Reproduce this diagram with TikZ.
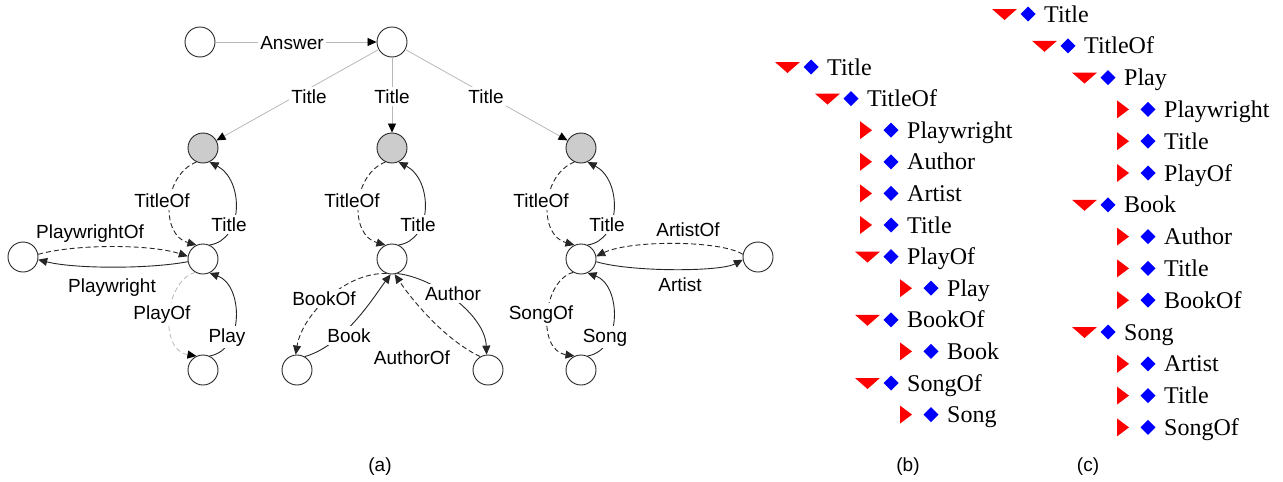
\documentclass[tikz,border=0pt]{standalone}
\usepackage{fontspec}
\setmainfont{Liberation Sans}
\newfontfamily\treefont{Liberation Serif}
\usetikzlibrary{arrows.meta}
\definecolor{treered}{RGB}{255,0,0}
\definecolor{treeblue}{RGB}{0,0,255}
\begin{document}
\begin{tikzpicture}[x=1pt,y=-1pt,
  vtx/.style={circle, draw=black!85, line width=0.9pt, minimum size=30pt, inner sep=0pt},
  gvtx/.style={vtx, fill=black!20},
  lbl/.style={fill=white, inner sep=2.5pt, anchor=base, font=\fontsize{19}{22}\selectfont},
  captxt/.style={inner sep=0pt, anchor=base, font=\fontsize{19}{22}\selectfont},
  sol/.style={draw=black!85, line width=0.9pt, -{Triangle[length=9pt,width=8pt]}},
  dsh/.style={sol, dash pattern=on 5pt off 3pt},
  gry/.style={draw=black!28, line width=0.8pt, -{Triangle[length=9pt,width=8pt,color=black]}},
  gdsh/.style={gry, dash pattern=on 5pt off 3pt},
  ttxt/.style={anchor=base west, inner sep=0pt, font=\treefont\fontsize{24}{28}\selectfont}
]
\useasboundingbox (0,0) rectangle (1283,482);

% ---------- graph (a) ----------
\node[vtx]  (L)  at (200,42) {};
\node[vtx]  (R)  at (392,42) {};
\node[gvtx] (G1) at (203,148) {};
\node[gvtx] (G2) at (392,148) {};
\node[gvtx] (G3) at (581,148) {};
\node[vtx]  (M1) at (203,259) {};
\node[vtx]  (M2) at (392,259) {};
\node[vtx]  (M3) at (581,259) {};
\node[vtx]  (P)  at (23,257) {};
\node[vtx]  (A)  at (758,257) {};
\node[vtx]  (B1) at (203,370) {};
\node[vtx]  (Bk) at (297,370) {};
\node[vtx]  (Au) at (488,370) {};
\node[vtx]  (S)  at (581,370) {};

\draw[gry] (L) -- (R);
\draw[gry] (R) -- (G1);
\draw[gry] (R) -- (G2);
\draw[gry] (R) -- (G3);

% left column
\draw[dsh] (G1.245) .. controls (163,175) and (160,235) .. (M1.115);
\draw[sol] (M1.65) .. controls (244,240) and (244,180) .. (G1.295);
\draw[dsh] (P.10) .. controls (75,244) and (150,244) .. (M1.170);
\draw[sol] (M1.190) .. controls (150,269) and (75,269) .. (P.350);
\draw[gdsh] (M1.240) .. controls (165,280) and (158,350) .. (B1.115);
\draw[sol] (B1.65) .. controls (245,350) and (243,285) .. (M1.295);

% middle column
\draw[dsh] (G2.245) .. controls (352,175) and (349,235) .. (M2.115);
\draw[sol] (M2.65) .. controls (433,240) and (433,180) .. (G2.295);
\draw[dsh] (M2.250) .. controls (345,272) and (302,315) .. (Bk.95);
\draw[sol] (Bk.60) .. controls (345,345) and (375,295) .. (M2.265);
\draw[sol] (M2.290) .. controls (435,278) and (485,315) .. (Au.95);
\draw[dsh] (Au.120) .. controls (445,340) and (412,300) .. (M2.280);

% right column
\draw[dsh] (G3.245) .. controls (541,175) and (538,235) .. (M3.115);
\draw[sol] (M3.65) .. controls (622,240) and (622,180) .. (G3.295);
\draw[dsh] (M3.240) .. controls (543,280) and (536,350) .. (S.115);
\draw[sol] (S.65) .. controls (623,350) and (621,285) .. (M3.295);
\draw[dsh] (A.170) .. controls (720,240) and (630,240) .. (M3.10);
\draw[sol] (M3.350) .. controls (630,272) and (720,272) .. (A.190);

% labels
\node[lbl] (lAns) at (292,49) {Answer};
\node[lbl] (lT1) at (309,103) {Title};
\node[lbl] (lT2) at (392,103) {Title};
\node[lbl] (lT3) at (486,103) {Title};
\node[lbl] (lTO1) at (162,207) {TitleOf};
\node[lbl] (lTO2) at (352,207) {TitleOf};
\node[lbl] (lTO3) at (541,207) {TitleOf};
\node[lbl] (lTi1) at (229,231) {Title};
\node[lbl] (lTi2) at (418,231) {Title};
\node[lbl] (lTi3) at (607,231) {Title};
\node[lbl] (lPWO) at (90,238) {PlaywrightOf};
\node[lbl] (lPW) at (112,292) {Playwright};
\node[lbl] (lPO) at (162,319) {PlayOf};
\node[lbl] (lPl) at (227,342) {Play};
\node[lbl] (lBO) at (324,305) {BookOf};
\node[lbl] (lBk) at (349,342) {Book};
\node[lbl] (lAu) at (453,300) {Author};
\node[lbl] (lAO) at (412,364) {AuthorOf};
\node[lbl] (lSO) at (541,319) {SongOf};
\node[lbl] (lSg) at (605,342) {Song};
\node[lbl] (lAtO) at (688,236) {ArtistOf};
\node[lbl] (lAt) at (680,291) {Artist};

% ---------- trees (b) and (c) ----------
\foreach \lev/\typ/\txt [count=\i from 0] in {1/0/Title, 2/0/TitleOf, 3/1/Playwright, 3/1/Author, 3/1/Artist, 3/1/Title, 3/0/PlayOf, 4/1/Play, 3/0/BookOf, 4/1/Book, 3/0/SongOf, 4/1/Song}{
  \pgfmathsetmacro\xo{775+40*(\lev-1)}
  \pgfmathsetmacro\yy{67+31.6*\i}
  \ifnum\typ=0
    \fill[treered] (\xo,\yy-5) -- (\xo+25,\yy-5) -- (\xo+12.5,\yy+6) -- cycle;
  \else
    \fill[treered] (\xo+5,\yy-9) -- (\xo+17,\yy) -- (\xo+5,\yy+9) -- cycle;
  \fi
  \fill[treeblue] (\xo+36,\yy-7.5) -- (\xo+43.5,\yy) -- (\xo+36,\yy+7.5) -- (\xo+28.5,\yy) -- cycle;
  \node[ttxt] (tb\i) at (\xo+52,\yy+8) {\txt};
}
\foreach \lev/\typ/\txt [count=\i from 0] in {1/0/Title, 2/0/TitleOf, 3/0/Play, 4/1/Playwright, 4/1/Title, 4/1/PlayOf, 3/0/Book, 4/1/Author, 4/1/Title, 4/1/BookOf, 3/0/Song, 4/1/Artist, 4/1/Title, 4/1/SongOf}{
  \pgfmathsetmacro\xo{992+40*(\lev-1)}
  \pgfmathsetmacro\yy{14+31.8*\i}
  \ifnum\typ=0
    \fill[treered] (\xo,\yy-5) -- (\xo+25,\yy-5) -- (\xo+12.5,\yy+6) -- cycle;
  \else
    \fill[treered] (\xo+5,\yy-9) -- (\xo+17,\yy) -- (\xo+5,\yy+9) -- cycle;
  \fi
  \fill[treeblue] (\xo+36,\yy-7.5) -- (\xo+43.5,\yy) -- (\xo+36,\yy+7.5) -- (\xo+28.5,\yy) -- cycle;
  \node[ttxt] (tc\i) at (\xo+52,\yy+8) {\txt};
}

% captions
\node[captxt] (ca) at (380,471) {(a)};
\node[captxt] (cb) at (908,471) {(b)};
\node[captxt] (cc) at (1088,471) {(c)};
\end{tikzpicture}
\end{document}
